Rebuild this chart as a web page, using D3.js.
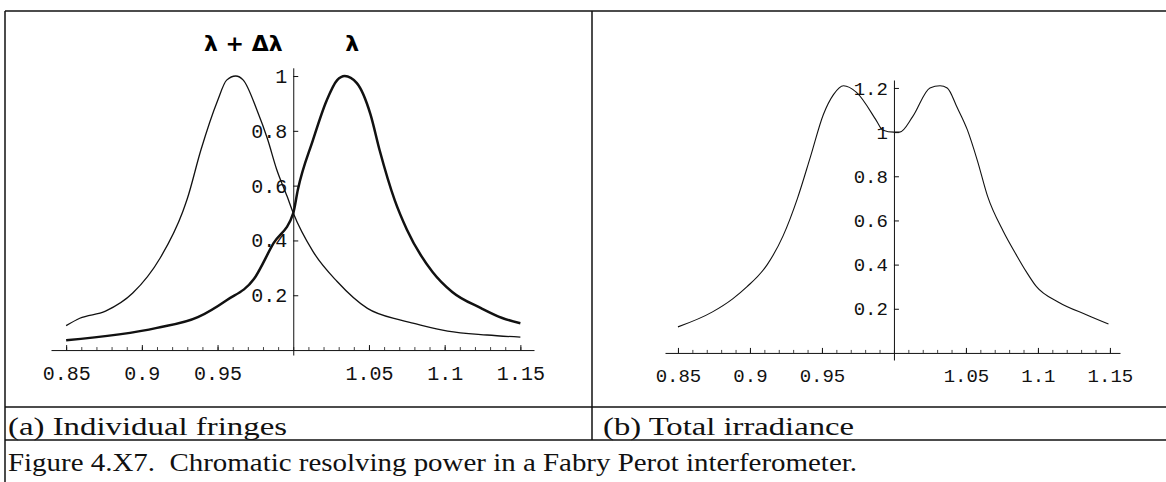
<!DOCTYPE html>
<html>
<head>
<meta charset="utf-8">
<script src="https://cdn.jsdelivr.net/npm/d3@7"></script>
<style>
  body { margin: 0; background: #fff; }
  .tick line, .domain { stroke: #111; }
  .tick text { font-family: "Liberation Mono", monospace; fill: #111; }
</style>
</head>
<body>
<div id="root"></div>
<script>
// (a) individual fringes
var shiftedX = [0.85, 0.859, 0.876, 0.894, 0.912, 0.927, 0.930, 0.939, 0.950, 0.956, 0.962, 0.967, 0.976, 0.983, 0.989, 0.996, 1.0, 1.013, 1.029, 1.049, 1.071, 1.079, 1.102, 1.128, 1.15];
var shiftedY = [0.089, 0.116, 0.142, 0.208, 0.335, 0.505, 0.552, 0.73, 0.91, 0.985, 1.0, 0.985, 0.876, 0.77, 0.66, 0.56, 0.5, 0.36, 0.25, 0.152, 0.109, 0.098, 0.069, 0.055, 0.047];

var baseX = [0.85, 0.910, 0.937, 0.956, 0.974, 0.987, 1.0, 1.003, 1.013, 1.022, 1.029, 1.034, 1.042, 1.051, 1.057, 1.067, 1.075, 1.092, 1.105, 1.124, 1.138, 1.15];
var baseY = [0.036, 0.081, 0.12, 0.182, 0.259, 0.39, 0.5, 0.584, 0.766, 0.91, 0.985, 1.0, 0.974, 0.86, 0.73, 0.547, 0.44, 0.285, 0.212, 0.153, 0.117, 0.098];

// (b) total irradiance
var totalX = [0.85, 0.874, 0.888, 0.898, 0.912, 0.923, 0.933, 0.942, 0.951, 0.958, 0.965, 0.974, 0.988, 0.992, 1.0, 1.004, 1.013, 1.025, 1.032, 1.037, 1.044, 1.051, 1.058, 1.065, 1.076, 1.085, 1.092, 1.099, 1.114, 1.134, 1.149];
var totalY = [0.118, 0.186, 0.245, 0.3, 0.4, 0.53, 0.7, 0.888, 1.08, 1.17, 1.21, 1.18, 1.05, 1.01, 1.0, 1.0, 1.07, 1.2, 1.21, 1.2, 1.11, 1.01, 0.87, 0.71, 0.55, 0.444, 0.367, 0.3, 0.231, 0.172, 0.131];

var xTickLabels = [0.85, 0.9, 0.95, 1.05, 1.1, 1.15];
var leftYTicks = [0.2, 0.4, 0.6, 0.8, 1];
var rightYTicks = [0.2, 0.4, 0.6, 0.8, 1, 1.2];
var peakLabels = ["λ + Δλ", "λ"];
var peakLabelX = [0.967, 1.039];

var captionA = "(a) Individual fringes";
var captionB = "(b) Total irradiance";
var figureCaption = "Figure 4.X7.  Chromatic resolving power in a Fabry Perot interferometer.";

var W = 1166, H = 482;
var svg = d3.select("#root").append("svg")
    .attr("width", W)
    .attr("height", H);

// table frame
var frame = svg.append("g").attr("stroke", "#111").attr("stroke-width", 1.5);
frame.append("line").attr("x1", 5).attr("x2", W).attr("y1", 11).attr("y2", 11);
frame.append("line").attr("x1", 5).attr("x2", 5).attr("y1", 11).attr("y2", H);
frame.append("line").attr("x1", 592).attr("x2", 592).attr("y1", 11).attr("y2", 440);
frame.append("line").attr("x1", 5).attr("x2", W).attr("y1", 407).attr("y2", 407);
frame.append("line").attr("x1", 5).attr("x2", W).attr("y1", 440).attr("y2", 440);

var minorTicks = d3.range(85, 116).map(function (d) { return d / 100; });

function panel(opts)
{
    var x = d3.scaleLinear().domain(opts.xDomain).range(opts.xRange);
    var y = d3.scaleLinear().domain(opts.yDomain).range(opts.yRange);
    var g = svg.append("g");

    // x axis: minor ticks every 0.01, labels every 0.05
    g.append("g")
        .attr("transform", "translate(0," + y(0) + ")")
        .call(d3.axisBottom(x).tickValues(minorTicks).tickSizeInner(-3).tickSizeOuter(0).tickFormat(""))
        .call(function (a) { a.selectAll("line").attr("stroke-width", 0.8); });

    g.append("g")
        .attr("transform", "translate(0," + y(0) + ")")
        .call(d3.axisBottom(x).tickValues(xTickLabels).tickSizeInner(-5).tickSizeOuter(0)
            .tickPadding(opts.xPad).tickFormat(function (d) { return String(d); }))
        .call(function (a) { a.select(".domain").remove(); })
        .selectAll("text").style("font-size", opts.font + "px");

    // y axis at x = 1
    g.append("g")
        .attr("transform", "translate(" + x(1) + ",0)")
        .call(d3.axisLeft(y).tickValues(opts.yTicks).tickSizeInner(-5).tickSizeOuter(0)
            .tickPadding(6).tickFormat(function (d) { return String(d); }))
        .selectAll("text").style("font-size", opts.font + "px");

    var line = d3.line()
        .x(function (d) { return x(d[0]); })
        .y(function (d) { return y(d[1]); })
        .curve(d3.curveMonotoneX);

    opts.series.forEach(function (s)
    {
        g.append("path")
            .datum(d3.zip(s.x, s.y))
            .attr("fill", "none")
            .attr("stroke", "#111")
            .attr("stroke-width", s.w)
            .attr("stroke-linejoin", "round")
            .attr("d", line);
    });

    return { x: x, y: y, g: g };
}

var left = panel({
    xDomain: [0.84, 1.159], xRange: [51, 534],
    yDomain: [-0.018, 1.03], yRange: [355, 67.8],
    yTicks: leftYTicks, font: 20, xPad: 16,
    series: [
        { x: shiftedX, y: shiftedY, w: 1.3 },
        { x: baseX, y: baseY, w: 2.5 }
    ]
});

panel({
    xDomain: [0.841, 1.157], xRange: [665, 1120],
    yDomain: [-0.032, 1.236], yRange: [360, 80],
    yTicks: rightYTicks, font: 19, xPad: 16,
    series: [
        { x: totalX, y: totalY, w: 1.1 }
    ]
});

// peak labels
left.g.selectAll(".peak")
    .data(peakLabels)
    .enter().append("text")
    .attr("x", function (d, i) { return left.x(peakLabelX[i]); })
    .attr("y", 51)
    .attr("text-anchor", "middle")
    .style("font-family", "DejaVu Sans, sans-serif")
    .style("font-weight", "bold")
    .style("font-size", "22px")
    .text(function (d) { return d; });

// captions (the scan is stretched sideways, so fit each line to its width)
var cap = svg.append("g")
    .style("font-family", "Liberation Serif, Times New Roman, serif")
    .style("font-size", "25px")
    .attr("fill", "#111");
cap.append("text").attr("x", 8).attr("y", 435)
    .attr("textLength", 279).attr("lengthAdjust", "spacingAndGlyphs").text(captionA);
cap.append("text").attr("x", 603).attr("y", 435)
    .attr("textLength", 251).attr("lengthAdjust", "spacingAndGlyphs").text(captionB);
cap.append("text").attr("x", 8).attr("y", 471).attr("xml:space", "preserve")
    .attr("textLength", 849).attr("lengthAdjust", "spacingAndGlyphs").text(figureCaption);
</script>
</body>
</html>
